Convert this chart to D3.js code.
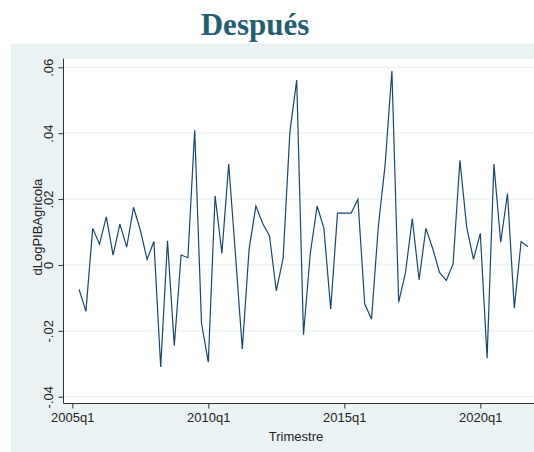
<!DOCTYPE html>
<html><head><meta charset="utf-8">
<script src="https://cdn.jsdelivr.net/npm/d3@7"></script>
<style>body{margin:0;background:#fff;}svg{display:block;}</style>
</head><body>
<script>
// quarter index (0 = 2005q1)
const quarters = d3.range(1, 68);
const values = [
  -0.0074, -0.0141, 0.0111, 0.0063, 0.0146, 0.0030, 0.0124, 0.0054, 0.0175, 0.0106,
   0.0017, 0.0071, -0.0310, 0.0073, -0.0245, 0.0030, 0.0022, 0.0409, -0.0177, -0.0295,
   0.0210, 0.0035, 0.0306, 0.0030, -0.0255, 0.0048, 0.0179, 0.0126, 0.0088, -0.0079,
   0.0020, 0.0404, 0.0561, -0.0212, 0.0035, 0.0179, 0.0111, -0.0134, 0.0157, 0.0157,
   0.0157, 0.0199, -0.0118, -0.0165, 0.0116, 0.0303, 0.0589, -0.0113, -0.0023, 0.0141,
  -0.0045, 0.0111, 0.0050, -0.0023, -0.0047, 0.0003, 0.0318, 0.0114, 0.0017, 0.0096,
  -0.0283, 0.0306, 0.0069, 0.0217, -0.0131, 0.0071, 0.0055
];
const xTickQuarters = [0, 20, 40, 60];
const xTickLabels = ["2005q1", "2010q1", "2015q1", "2020q1"];
const yTicks = [-0.04, -0.02, 0, 0.02, 0.04, 0.06];
const yTickLabels = ["-.04", "-.02", "0", ".02", ".04", ".06"];
const titleText = "Después";
const xTitle = "Trimestre";
const yTitle = "dLogPIBAgricola";

const W = 534, H = 452;
const svg = d3.select("body").append("svg").attr("width", W).attr("height", H);
const bg = "#eaf2f3";

svg.append("rect").attr("x", 11).attr("y", 43.5).attr("width", W - 11).attr("height", H - 43.5).attr("fill", bg);

const plot = {left: 63.5, top: 58.7, right: 534, bottom: 403.5};
svg.append("rect").attr("x", plot.left).attr("y", plot.top)
  .attr("width", plot.right - plot.left).attr("height", plot.bottom - plot.top).attr("fill", "#fff");

const x = d3.scaleLinear().domain([0, 67]).range([72.3, 527.9]);
const y = d3.scaleLinear().domain([-0.04, 0.06]).range([396.7, 67.3]);

// gridlines
svg.append("g").selectAll("line").data(yTicks).join("line")
  .attr("x1", plot.left).attr("x2", plot.right)
  .attr("y1", d => y(d)).attr("y2", d => y(d))
  .attr("stroke", bg).attr("stroke-width", 1.2);

// title
svg.append("text").attr("x", 255).attr("y", 35).attr("text-anchor", "middle")
  .attr("font-family", "Liberation Serif, Times New Roman, serif").attr("font-weight", "bold")
  .attr("font-size", 31).attr("fill", "#245e6f").text(titleText);

// y axis
const yAxis = d3.axisLeft(y).tickValues(yTicks).tickSize(5)
  .tickFormat((d, i) => yTickLabels[i]);
const gy = svg.append("g").attr("transform", `translate(${plot.left},0)`).call(yAxis);
gy.select(".domain").remove();
gy.append("line").attr("x1", 0).attr("x2", 0).attr("y1", plot.top).attr("y2", plot.bottom)
  .attr("stroke", "#333").attr("stroke-width", 1);
gy.selectAll(".tick line").attr("stroke", "#333");
gy.selectAll(".tick text")
  .attr("font-family", "Liberation Sans, Arial, sans-serif").attr("font-size", 13).attr("fill", "#222")
  .attr("x", null).attr("y", null).attr("dy", 0)
  .attr("transform", "translate(-10.5,0) rotate(-90)").attr("text-anchor", "middle");

// x axis
const xAxis = d3.axisBottom(x).tickValues(xTickQuarters).tickSize(5)
  .tickFormat((d, i) => xTickLabels[i]);
const gx = svg.append("g").attr("transform", `translate(0,${plot.bottom})`).call(xAxis);
gx.select(".domain").remove();
gx.append("line").attr("x1", plot.left).attr("x2", plot.right).attr("y1", 0).attr("y2", 0)
  .attr("stroke", "#333").attr("stroke-width", 1);
gx.selectAll(".tick line").attr("stroke", "#333");
gx.selectAll(".tick text")
  .attr("font-family", "Liberation Sans, Arial, sans-serif").attr("font-size", 13).attr("fill", "#222")
  .attr("y", 9).attr("dy", "0.71em");

// axis titles
svg.append("text").attr("x", 296).attr("y", 441).attr("text-anchor", "middle")
  .attr("font-family", "Liberation Sans, Arial, sans-serif").attr("font-size", 13).attr("fill", "#222")
  .text(xTitle);
svg.append("text").attr("transform", `translate(41.5,${(plot.top + plot.bottom) / 2 - 4}) rotate(-90)`)
  .attr("text-anchor", "middle")
  .attr("font-family", "Liberation Sans, Arial, sans-serif").attr("font-size", 13).attr("fill", "#222")
  .text(yTitle);

// series
const line = d3.line().x((d, i) => x(quarters[i])).y(d => y(d));
svg.append("path").datum(values).attr("d", line)
  .attr("fill", "none").attr("stroke", "#1a476f").attr("stroke-width", 1.2)
  .attr("stroke-linejoin", "miter");
</script>
</body></html>
